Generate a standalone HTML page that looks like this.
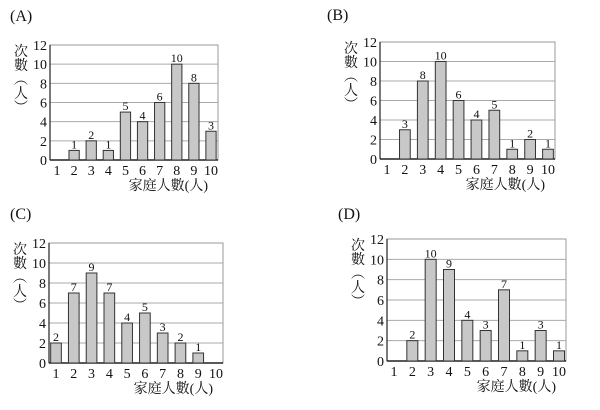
<!DOCTYPE html>
<html><head><meta charset="utf-8">
<style>
body{margin:0;background:#fff;}
svg{display:block;font-family:"Liberation Serif","Noto Serif CJK SC",serif;}
</style></head>
<body>
<svg id="chart" width="600" height="410" viewBox="0 0 600 410"></svg>
<script>
const categories = [1,2,3,4,5,6,7,8,9,10];
const valuesA = [0,1,2,1,5,4,6,10,8,3];
const valuesB = [0,3,8,10,6,4,5,1,2,1];
const valuesC = [2,7,9,7,4,5,3,2,1,0];
const valuesD = [0,2,10,9,4,3,7,1,3,1];
const yTicks = [0,2,4,6,8,10,12];
const panelTitles = ["(A)","(B)","(C)","(D)"];

const panels = [
  {vals: valuesA, L:50, R:218, T:45, B:160, tx:10, ty:21, key:'a'},
  {vals: valuesB, L:380, R:555, T:42, B:159, tx:327, ty:20, key:'b'},
  {vals: valuesC, L:49, R:223, T:243, B:363, tx:10, ty:219, key:'c'},
  {vals: valuesD, L:387, R:566, T:239, B:361, tx:338, ty:219, key:'d'}
];
const NS="http://www.w3.org/2000/svg";
const svg=document.getElementById('chart');
function mk(tag, attrs, parent){
  const e=document.createElementNS(NS,tag);
  for(const k in attrs) e.setAttribute(k, attrs[k]);
  (parent||svg).appendChild(e); return e;
}
panels.forEach((p,pi)=>{
  const g=mk('g',{});
  
  
  const s=(p.R-p.L-14)/9;
  const x=i=>p.L+7+i*s;
  const y=v=>p.B-(v/12)*(p.B-p.T);
  const t=mk('text',{x:p.tx,y:p.ty,'font-size':16,fill:'#111'},g);
  t.textContent=panelTitles[pi];
  
  
  // frame
  const fr=mk('rect',{x:p.L,y:p.T,width:p.R-p.L,height:p.B-p.T,fill:'none',stroke:'#999','stroke-width':1},g);
  
  
  yTicks.forEach(v=>{
    if(v>0&&v<12){
      const gl=mk('line',{x1:p.L,x2:p.R,y1:y(v),y2:y(v),stroke:'#aaa','stroke-width':1},g);
      
      
    }
    const tl=mk('text',{x:p.L-3,y:y(v)+5,'font-size':14,'text-anchor':'end',fill:'#111'},g);
    tl.textContent=v;
    
    
  });
  const ya=mk('line',{x1:p.L,x2:p.L,y1:p.T,y2:p.B,stroke:'#222','stroke-width':1.2},g);
  
  
  const xa=mk('line',{x1:p.L,x2:p.R,y1:p.B,y2:p.B,stroke:'#222','stroke-width':1.5},g);
  
  
  const bw=s*0.6;
  categories.forEach((c,i)=>{
    const v=p.vals[i];
    if(v>0){
      const r=mk('rect',{x:x(i)-bw/2,y:y(v),width:bw,height:p.B-y(v),fill:'#c8c8c8',stroke:'#333','stroke-width':1},g);
      
      
      const vl=mk('text',{x:x(i),y:y(v)-2,'font-size':12,'text-anchor':'middle',fill:'#111'},g);
      vl.textContent=v;
      
      
    }
    const xl=mk('text',{x:x(i),y:p.B+15,'font-size':14,'text-anchor':'middle',fill:'#111'},g);
    xl.textContent=c;
    
    
  });
  const xt=mk('text',{x:p.R-10,y:p.B+30,'font-size':14,'text-anchor':'end',fill:'#111'},g);
  xt.textContent='家庭人數(人)';
  
  
  const yt=mk('g',{},g);
  
  
  ['次','數','︵','人','︶'].forEach((ch,k)=>{
    const e=mk('text',{x:p.L-29,y:p.T+11+k*14,'font-size':14,'text-anchor':'middle',fill:'#111'},yt);
    e.textContent=ch;
  });
});
</script>
</body></html>
